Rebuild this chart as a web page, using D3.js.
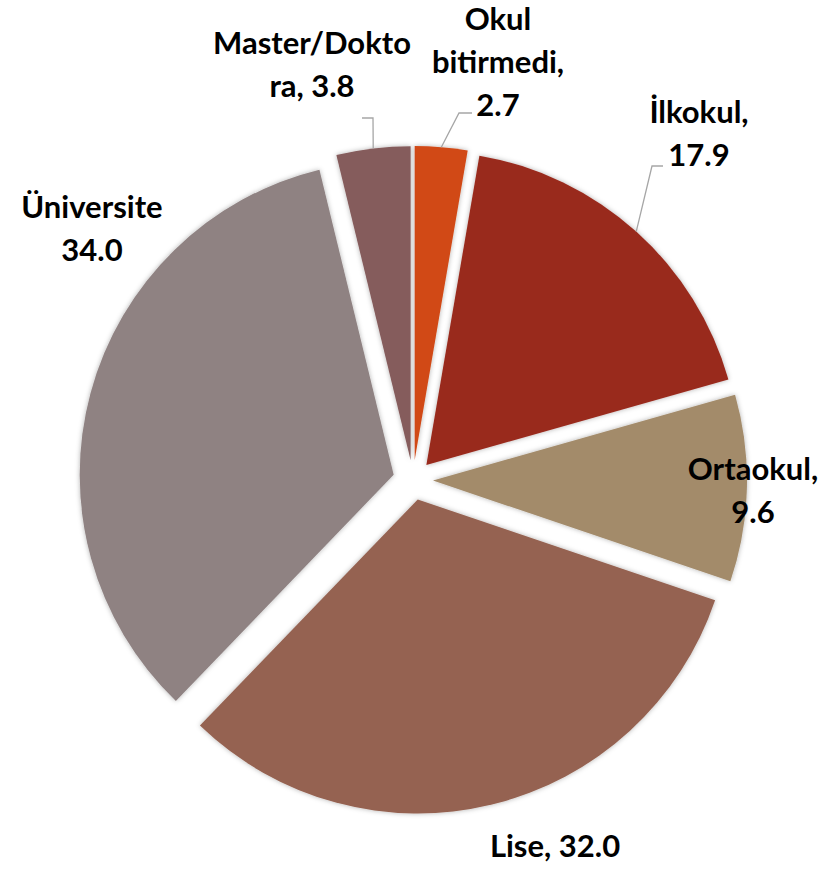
<!DOCTYPE html>
<html>
<head>
<meta charset="utf-8">
<script src="https://cdn.jsdelivr.net/npm/d3@7"></script>
<style>
  html, body { margin: 0; padding: 0; background: #ffffff; }
  svg { display: block; }
</style>
</head>
<body>
<script>
// education level shares (%)
var categories = ["Okul bitirmedi", "İlkokul", "Ortaokul", "Lise", "Üniversite", "Master/Doktora"];
var values = [2.7, 17.9, 9.6, 32.0, 34.0, 3.8];
var colours = ["#d14a17", "#992b1f", "#a38b6b", "#956251", "#8f8282", "#855c5c"];
// label text lines as shown on the chart
var labelLines = [["Okul", "bitirmedi,", "2.7"], ["İlkokul,", "17.9"], ["Ortaokul,", "9.6"],
                  ["Lise, 32.0"], ["Üniversite", "34.0"], ["Master/Dokto", "ra, 3.8"]];

// layout
var width = 828, height = 870;
var cx = 413, cy = 480, radius = 314, explode = 20;
var lineH = 43;
// label anchor (centre x, first baseline y) and optional leader elbow
var labelLayout = [
    {x: 498, y: 30, elbow: [459, 113], end: [472, 113]},
    {x: 699, y: 123, elbow: [652, 166], end: [663, 166]},
    {x: 753, y: 480},
    {x: 555, y: 857},
    {x: 92, y: 218},
    {x: 312, y: 54, elbow: [373, 118], end: [362, 118]}
];

var data = categories.map(function(c, i) {
    return {name: c, value: values[i], colour: colours[i], lines: labelLines[i], layout: labelLayout[i]};
});

var svg = d3.select("body")
            .append("svg")
            .attr("width", width)
            .attr("height", height);

var defs = svg.append("defs");
var filter = defs.append("filter")
            .attr("id", "shadow")
            .attr("x", "-20%").attr("y", "-20%")
            .attr("width", "140%").attr("height", "140%");
filter.append("feDropShadow")
      .attr("dx", 0).attr("dy", 0)
      .attr("stdDeviation", 2.5)
      .attr("flood-color", "#000")
      .attr("flood-opacity", 0.3);

var pie = d3.pie()
            .sort(null)
            .value(function(d) { return d.value; });

var arc = d3.arc()
            .innerRadius(0)
            .outerRadius(radius);

var arcs = pie(data);

function midAngle(d) { return (d.startAngle + d.endAngle) / 2; }

var g = svg.append("g")
           .attr("transform", "translate(" + cx + "," + cy + ")");

g.selectAll("path")
 .data(arcs)
 .enter()
 .append("path")
 .attr("d", arc)
 .attr("fill", function(d) { return d.data.colour; })
 .attr("filter", "url(#shadow)")
 .attr("transform", function(d) {
     var a = midAngle(d);
     return "translate(" + (explode * Math.sin(a)) + "," + (-explode * Math.cos(a)) + ")";
 });

// leader lines
svg.selectAll("polyline.leader")
   .data(arcs.filter(function(d) { return d.data.layout.elbow; }))
   .enter()
   .append("polyline")
   .attr("class", "leader")
   .attr("fill", "none")
   .attr("stroke", "#a6a6a6")
   .attr("stroke-width", 1.3)
   .attr("points", function(d) {
       var a = midAngle(d), r = radius + explode;
       var sx = cx + r * Math.sin(a), sy = cy - r * Math.cos(a);
       var L = d.data.layout;
       return [[sx, sy], L.elbow, L.end].map(function(p) { return p.join(","); }).join(" ");
   });

// labels
var labels = svg.selectAll("text.label")
    .data(data)
    .enter()
    .append("text")
    .attr("class", "label")
    .attr("font-family", "Lato, 'Open Sans', sans-serif")
    .attr("font-weight", "bold")
    .attr("font-size", "31px")
    .attr("fill", "#000")
    .attr("text-anchor", "middle");

labels.selectAll("tspan")
    .data(function(d) { return d.lines.map(function(t, i) { return {t: t, i: i, L: d.layout}; }); })
    .enter()
    .append("tspan")
    .attr("x", function(d) { return d.L.x; })
    .attr("y", function(d) { return d.L.y + d.i * lineH; })
    .text(function(d) { return d.t; });
</script>
</body>
</html>
